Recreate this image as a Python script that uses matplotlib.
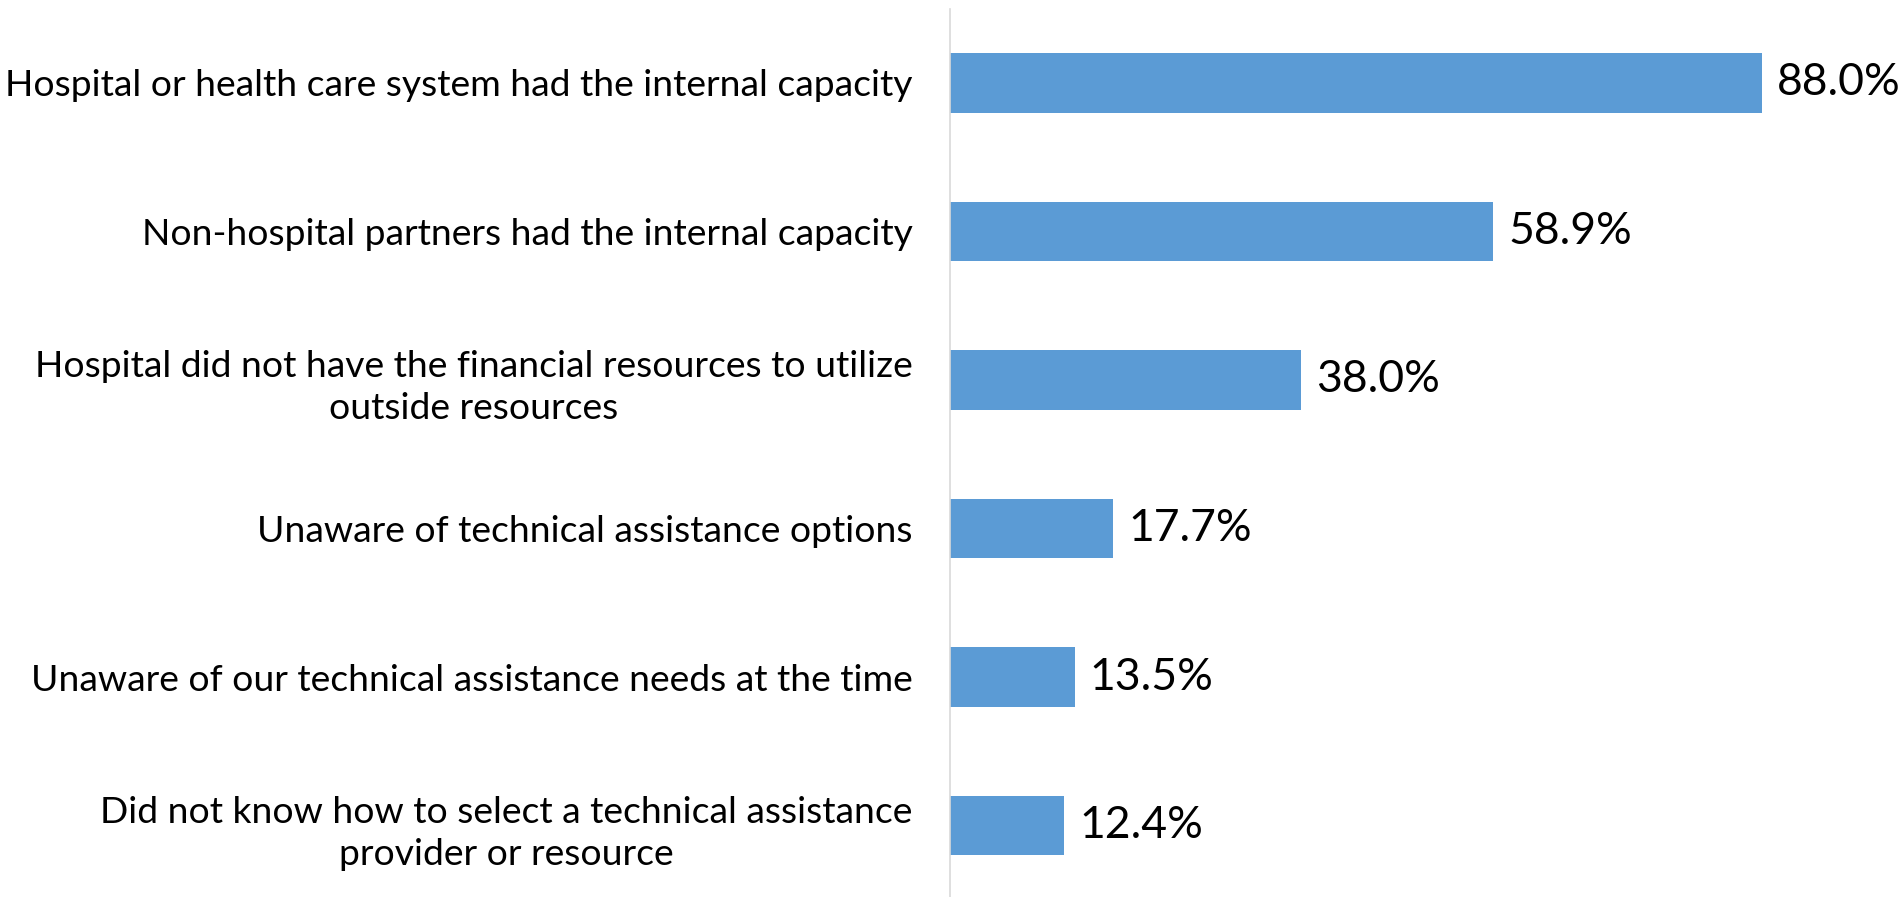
import matplotlib
matplotlib.use("Agg")
import matplotlib.pyplot as plt

# Reasons for not using outside technical assistance (% of respondents)
categories = [
    "Hospital or health care system had the internal capacity",
    "Non-hospital partners had the internal capacity",
    "Hospital did not have the financial resources to utilize\noutside resources",
    "Unaware of technical assistance options",
    "Unaware of our technical assistance needs at the time",
    "Did not know how to select a technical assistance\nprovider or resource",
]
percentages = [88.0, 58.9, 38.0, 17.7, 13.5, 12.4]

BAR_COLOR = "#5B9BD5"
AXIS_COLOR = "#D9D9D9"
FONT = ["Lato", "DejaVu Sans"]

plt.rcParams["font.family"] = FONT

fig = plt.figure(figsize=(19.01, 8.97), dpi=100)
ax = fig.add_axes([950 / 1901, -0.0032, 1 - 950 / 1901, 0.9937])

positions = list(range(len(categories)))
bars = ax.barh(positions, percentages, height=0.4, color=BAR_COLOR, zorder=2)

ax.set_ylim(len(categories) - 0.5, -0.5)
ax.set_xlim(0, 103.1)

# value labels to the right of each bar
ax.bar_label(bars, labels=[f"{v:.1f}%" for v in percentages],
             padding=11, fontsize=32, color="black")

# category labels
ax.set_yticks(positions)
ax.set_yticklabels(categories, fontsize=26.8, color="black")
for lbl in ax.get_yticklabels():
    lbl.set_multialignment("center")
    lbl.set_linespacing(1.35)
ax.tick_params(axis="y", length=0, pad=27)
ax.set_xticks([])

for side in ("top", "right", "bottom"):
    ax.spines[side].set_visible(False)
ax.spines["left"].set_color(AXIS_COLOR)
ax.spines["left"].set_linewidth(1.2)

fig.savefig("out.png", dpi=100, facecolor="white")
